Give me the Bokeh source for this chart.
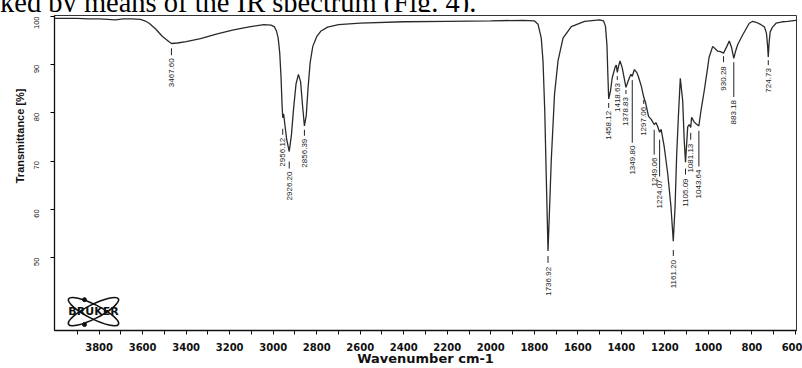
import math
from bokeh.plotting import figure
from bokeh.models import Range1d, FixedTicker, Title, Div
from bokeh.layouts import column
from bokeh.core.properties import value
from bokeh.embed import file_html
from bokeh.resources import INLINE

# ---------------- data ----------------
wavenumber = [4005, 3950, 3900, 3850, 3800, 3760, 3725, 3690, 3650, 3610, 3590, 3570,
              3540, 3510, 3480, 3467.6, 3440, 3400, 3334, 3257, 3182, 3104, 3043, 3010,
              2995, 2985, 2977, 2970, 2964, 2959, 2956.12, 2952, 2946, 2938, 2926.2, 2916,
              2906, 2895, 2884, 2874, 2865, 2856.39, 2848, 2840, 2830, 2818, 2800, 2780,
              2750, 2700, 2600, 2400, 2200, 2000, 1850, 1800, 1783, 1768, 1760, 1752,
              1745, 1736.92, 1730, 1722, 1707, 1691, 1668, 1630, 1569, 1500, 1482, 1473,
              1466, 1462, 1458.12, 1450, 1442, 1427, 1423, 1418.63, 1412, 1406, 1396, 1388,
              1378.83, 1371, 1363, 1356, 1349.8, 1340, 1328, 1320, 1308, 1297.06, 1288, 1275,
              1262, 1249.06, 1241, 1233, 1224.07, 1217, 1203, 1187, 1172, 1161.2, 1153, 1146,
              1138, 1129, 1118, 1111, 1105.09, 1095, 1088, 1081.13, 1077, 1065, 1058, 1043.64,
              1034, 1019, 1003, 997, 980, 957, 945, 930.28, 915, 904, 893, 883.18,
              875, 865, 842, 812, 796, 781, 758, 742, 733, 728, 724.73, 721,
              716, 705, 689, 660, 636, 598, 595]
transmittance = [99.6, 99.6, 99.6, 99.5, 99.5, 99.4, 99.3, 99.5, 99.5, 99.4, 99.1, 98.6,
                 97.4, 95.9, 94.8, 94.4, 94.5, 94.8, 95.4, 96.4, 97.2, 97.9, 98.3, 98.2,
                 97.9, 97.0, 95.5, 92.5, 87.5, 81.5, 79.0, 79.8, 77.5, 74.5, 72.0, 75.5,
                 81.0, 86.0, 88.0, 86.5, 81.5, 77.3, 79.5, 85.0, 90.5, 93.8, 95.8, 97.0,
                 97.8, 98.3, 98.6, 98.9, 99.0, 99.1, 99.2, 99.1, 98.4, 95.5, 90.8, 80.5,
                 66.8, 51.4, 60.0, 70.2, 83.9, 90.8, 95.5, 97.9, 99.0, 99.3, 99.1, 98.0,
                 94.0, 88.0, 82.9, 84.5, 87.3, 89.7, 89.9, 88.4, 89.8, 90.8, 89.4, 87.5,
                 85.3, 86.3, 87.3, 88.0, 87.6, 89.0, 88.3, 87.3, 85.5, 83.3, 82.0, 79.3,
                 78.6, 77.6, 78.0, 77.2, 76.0, 76.6, 73.0, 67.5, 60.6, 53.4, 60.6, 70.9,
                 79.1, 87.2, 82.5, 74.3, 69.8, 77.1, 77.6, 77.0, 79.1, 78.1, 77.8, 77.3,
                 80.5, 84.6, 89.5, 91.5, 93.8, 92.8, 92.7, 92.4, 93.8, 94.9, 93.5, 91.3,
                 92.8, 94.2, 96.2, 98.6, 99.0, 98.8, 98.3, 97.8, 96.5, 94.0, 91.6, 94.5,
                 96.8, 97.8, 98.6, 98.9, 99.0, 99.2, 99.2]

peak_wavenumbers = [3467.60, 2956.12, 2926.20, 2856.39, 1736.92, 1458.12, 1418.63,
                    1378.83, 1349.80, 1297.06, 1249.06, 1224.07, 1161.20, 1105.09,
                    1081.13, 1043.64, 930.28, 883.18, 724.73]
peak_labels = ["3467.60", "2956.12", "2926.20", "2856.39", "1736.92", "1458.12", "1418.63",
               "1378.83", "1349.80", "1297.06", "1249.06", "1224.07", "1161.20", "1105.09",
               "1081.13", "1043.64", "930.28", "883.18", "724.73"]

x_ticks = [3800, 3600, 3400, 3200, 3000, 2800, 2600, 2400, 2200, 2000, 1800, 1600,
           1400, 1200, 1000, 800, 600]
x_minor_ticks = [3900, 3700, 3500, 3300, 3100, 2900, 2700, 2500, 2300, 2100, 1900, 1700,
                 1500, 1300, 1100, 900, 700]
y_ticks = [50, 60, 70, 80, 90, 100]

header_text = "ked by means of the IR spectrum (Fig. 4)."
x_title = "Wavenumber cm-1"
y_title = "Transmittance [%]"
logo_text = "BRUKER"

# ---------------- layout (screen pixels, page coordinates) ----------------
W, H = 802, 368
HEADER_H = 12
FL, FR, FT, FB = 54, 796, 15, 332
X0, X1 = 4005, 595
Y0, Y1 = 34.9, 100.2

# label marker layout per peak: (dash top, dash bottom, text top) in page px
label_layout = [(48, 55, 58), (129, 135, 138), (162, 169, 172), (130, 136, 139),
                (257, 264, 268), (103, 108, 111), (76, 80, 83), (90, 94, 97),
                (80, 143, 146), (100, 104, 107), (130, 155, 158), (140, 177, 180),
                (251, 257, 261), (169, 175, 179), (133, 140, 144), (131, 167, 170),
                (56, 62, 66), (62, 97, 100), (60, 65, 68)]


def px_to_x(px):
    return X0 + (px - FL) * (X1 - X0) / (FR - FL)


def py_to_y(py):
    return Y1 - (py - FT) * (Y1 - Y0) / (FB - FT)


p = figure(width=W, height=H - HEADER_H, x_range=Range1d(X0, X1),
           y_range=Range1d(Y0, Y1), title=None,
           output_backend="svg", toolbar_location=None,
           min_border_left=FL, min_border_right=W - FR,
           min_border_top=FT - HEADER_H, min_border_bottom=H - FB)
p.margin = 0
p.background_fill_color = "white"
p.border_fill_color = "white"
p.outline_line_color = "#333333"
p.outline_line_width = 1
p.xgrid.visible = False
p.ygrid.visible = False

# x axis
xa = p.xaxis[0]
xa.ticker = FixedTicker(ticks=x_ticks, minor_ticks=x_minor_ticks)
xa.axis_line_color = "#111111"
xa.axis_line_width = 1.3
xa.major_tick_in = 0
xa.major_tick_out = 4
xa.minor_tick_in = 0
xa.minor_tick_out = 4
xa.major_tick_line_color = "#111111"
xa.minor_tick_line_color = "#111111"
xa.major_label_text_font = "DejaVu Sans"
xa.major_label_text_font_style = "bold"
xa.major_label_text_font_size = "10px"
xa.major_label_text_color = "#111111"
xa.major_label_standoff = 8
xa.axis_label = x_title
xa.axis_label_text_font = "DejaVu Sans"
xa.axis_label_text_font_style = "bold"
xa.axis_label_text_font_size = "13px"
xa.axis_label_text_color = "#111111"
xa.axis_label_standoff = -3

# y axis
ya = p.yaxis[0]
ya.ticker = FixedTicker(ticks=y_ticks, minor_ticks=[])
ya.axis_line_color = "#111111"
ya.axis_line_width = 1.3
ya.major_tick_in = 0
ya.major_tick_out = 4
ya.minor_tick_line_color = None
ya.major_label_orientation = math.pi / 2
ya.major_label_text_font = "Liberation Sans"
ya.major_label_text_font_size = "7.5px"
ya.major_label_text_color = "#111111"
ya.major_label_standoff = 14

# y-axis title (sits above the frame centre, as in the scan)
p.add_layout(Title(text=y_title, align="right", offset=73, standoff=6,
                   text_font="Liberation Sans", text_font_style="bold",
                   text_font_size="11px", text_color="#111111"), "left")

# spectrum
p.line(wavenumber, transmittance, line_color="#2a2a2a", line_width=1.3)

# peak labels
lx, ly0, ly1, ty = [], [], [], []
for wn, (a, b, c) in zip(peak_wavenumbers, label_layout):
    lx.append(wn)
    ly0.append(py_to_y(a))
    ly1.append(py_to_y(b))
    ty.append(py_to_y(c))
p.segment(x0=lx, y0=ly0, x1=lx, y1=ly1, line_color="#222222", line_width=1)
p.text(x=lx, y=ty, text=peak_labels, angle=math.pi / 2, text_align="right",
       text_baseline="middle", text_font=value("Liberation Sans"),
       text_font_size="8px", text_color="#222222")

# Bruker logo
cx, cy = px_to_x(93), py_to_y(313)
p.ellipse(x=[cx, cx], y=[cy, cy], width=[56, 56], height=[14, 14],
          angle=[0.47, -0.47], width_units="screen", height_units="screen",
          fill_color=None, line_color="#111111", line_width=1.6)
p.scatter(x=[px_to_x(84), px_to_x(84)], y=[py_to_y(301), py_to_y(326)], size=4,
          color="#111111")
p.text(x=[cx], y=[cy], text=[logo_text], text_align="center", text_baseline="middle",
       text_font=value("DejaVu Sans"), text_font_style="bold", text_font_size="11px",
       text_color="#111111")

# page header line of the surrounding document (cut off at the top)
header = Div(text=('<div style="font-family:\'Liberation Serif\';font-size:28.5px;'
                   'line-height:28px;margin-top:-14px;white-space:nowrap;color:#000;">'
                   + header_text + '</div>'),
             width=W, height=HEADER_H, margin=0, styles={"overflow": "hidden"})

layout = column(header, p, spacing=0, margin=0)

open("out.html", "w").write(file_html(layout, INLINE))
